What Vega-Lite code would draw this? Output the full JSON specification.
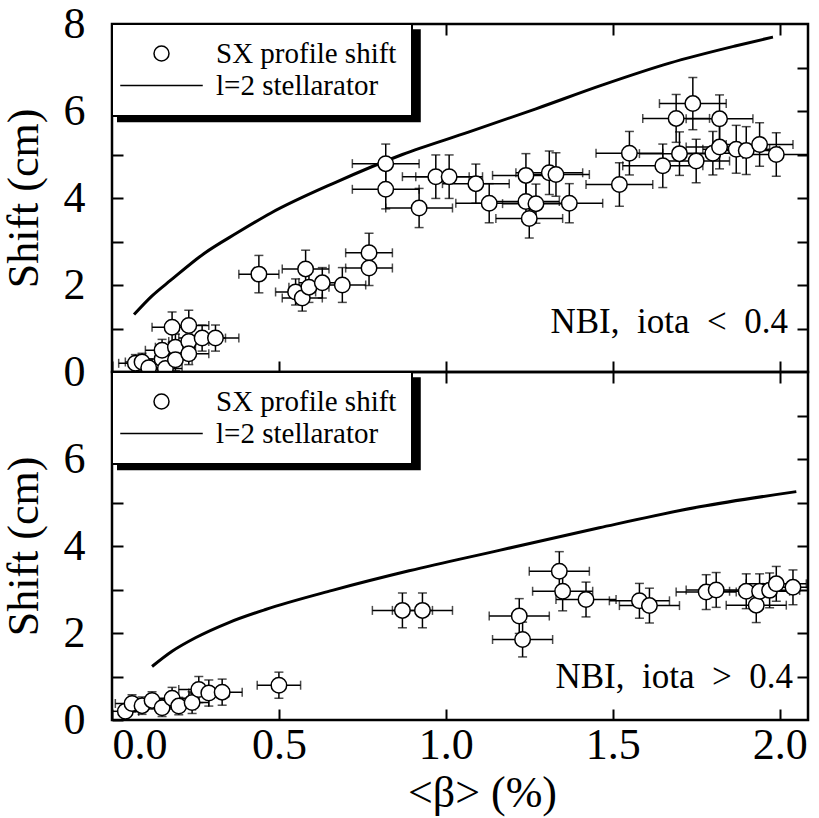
{
  "$schema": "https://vega.github.io/schema/vega-lite/v6.json",
  "autosize": {"type": "pad"},
  "padding": {"left": 0, "top": 0, "right": 5, "bottom": 0},
  "background": "white",
  "bounds": "flush",
  "config": {
    "font": "Liberation Serif",
    "view": {"stroke": "black", "strokeWidth": 2.5},
    "axis": {
      "domain": false, "grid": false, "minExtent": 0, "zindex": 2,
      "tickColor": "black", "tickWidth": 2, "tickSize": -11,
      "labelFont": "Liberation Serif", "labelFontSize": 44, "labelColor": "black",
      "titleFont": "Liberation Serif", "titleFontSize": 44, "titleFontWeight": "normal", "titleColor": "black"
    },
    "legend": {
      "orient": "top-left", "offset": 0, "padding": 15,
      "fillColor": "white", "strokeColor": "black", "strokeWidth": 2,
      "labelFont": "Liberation Serif", "labelFontSize": 29, "labelColor": "black", "labelLimit": 400,
      "rowPadding": 2
    }
  },
  "datasets": {
    "top": [
      {"b":0.07,"s":0.20,"db":0.05,"ds":0.2},
      {"b":0.09,"s":0.23,"db":0.05,"ds":0.2},
      {"b":0.11,"s":0.10,"db":0.05,"ds":0.2},
      {"b":0.15,"s":0.30,"db":0.05,"ds":0.25},
      {"b":0.15,"s":0.50,"db":0.05,"ds":0.25},
      {"b":0.16,"s":0.08,"db":0.05,"ds":0.2},
      {"b":0.18,"s":1.03,"db":0.06,"ds":0.35},
      {"b":0.19,"s":0.57,"db":0.06,"ds":0.3},
      {"b":0.19,"s":0.28,"db":0.05,"ds":0.25},
      {"b":0.23,"s":1.07,"db":0.06,"ds":0.35},
      {"b":0.23,"s":0.70,"db":0.06,"ds":0.3},
      {"b":0.23,"s":0.42,"db":0.06,"ds":0.25},
      {"b":0.27,"s":0.78,"db":0.07,"ds":0.3},
      {"b":0.31,"s":0.78,"db":0.07,"ds":0.3},
      {"b":0.44,"s":2.25,"db":0.06,"ds":0.43},
      {"b":0.58,"s":2.37,"db":0.07,"ds":0.43},
      {"b":0.55,"s":1.84,"db":0.06,"ds":0.3},
      {"b":0.57,"s":1.70,"db":0.06,"ds":0.3},
      {"b":0.59,"s":1.95,"db":0.06,"ds":0.35},
      {"b":0.63,"s":2.05,"db":0.07,"ds":0.35},
      {"b":0.69,"s":2.00,"db":0.07,"ds":0.4},
      {"b":0.77,"s":2.74,"db":0.07,"ds":0.45},
      {"b":0.77,"s":2.39,"db":0.07,"ds":0.4},
      {"b":0.82,"s":4.79,"db":0.1,"ds":0.45},
      {"b":0.82,"s":4.20,"db":0.1,"ds":0.45},
      {"b":0.92,"s":3.77,"db":0.1,"ds":0.45},
      {"b":0.97,"s":4.49,"db":0.1,"ds":0.5},
      {"b":1.01,"s":4.49,"db":0.1,"ds":0.5},
      {"b":1.09,"s":4.33,"db":0.1,"ds":0.45},
      {"b":1.13,"s":3.88,"db":0.1,"ds":0.45},
      {"b":1.24,"s":4.52,"db":0.1,"ds":0.5},
      {"b":1.31,"s":4.58,"db":0.1,"ds":0.5},
      {"b":1.33,"s":4.54,"db":0.1,"ds":0.5},
      {"b":1.24,"s":3.92,"db":0.1,"ds":0.45},
      {"b":1.27,"s":3.87,"db":0.1,"ds":0.45},
      {"b":1.25,"s":3.53,"db":0.1,"ds":0.45},
      {"b":1.37,"s":3.88,"db":0.1,"ds":0.45},
      {"b":1.52,"s":4.31,"db":0.1,"ds":0.5},
      {"b":1.55,"s":5.03,"db":0.1,"ds":0.5},
      {"b":1.65,"s":4.74,"db":0.12,"ds":0.5},
      {"b":1.69,"s":5.83,"db":0.1,"ds":0.55},
      {"b":1.70,"s":5.02,"db":0.12,"ds":0.5},
      {"b":1.74,"s":6.17,"db":0.1,"ds":0.6},
      {"b":1.75,"s":4.85,"db":0.1,"ds":0.5},
      {"b":1.80,"s":5.03,"db":0.1,"ds":0.5},
      {"b":1.82,"s":5.82,"db":0.1,"ds":0.55},
      {"b":1.82,"s":5.17,"db":0.1,"ds":0.5},
      {"b":1.87,"s":5.12,"db":0.1,"ds":0.55},
      {"b":1.90,"s":5.09,"db":0.1,"ds":0.55},
      {"b":1.94,"s":5.23,"db":0.1,"ds":0.5},
      {"b":1.99,"s":5.00,"db":0.1,"ds":0.5}
    ],
    "topModel": [
      {"b":0.066,"s":1.32},
      {"b":0.12,"s":1.75},
      {"b":0.176,"s":2.11},
      {"b":0.275,"s":2.72},
      {"b":0.375,"s":3.2},
      {"b":0.475,"s":3.65},
      {"b":0.67,"s":4.36},
      {"b":0.87,"s":5.0},
      {"b":1.07,"s":5.52},
      {"b":1.27,"s":6.05},
      {"b":1.47,"s":6.6},
      {"b":1.67,"s":7.1},
      {"b":1.87,"s":7.5},
      {"b":1.98,"s":7.7}
    ],
    "bottom": [
      {"b":0.04,"s":0.20,"db":0.04,"ds":0.15},
      {"b":0.06,"s":0.38,"db":0.05,"ds":0.2},
      {"b":0.09,"s":0.33,"db":0.05,"ds":0.2},
      {"b":0.12,"s":0.45,"db":0.05,"ds":0.2},
      {"b":0.15,"s":0.28,"db":0.05,"ds":0.2},
      {"b":0.18,"s":0.50,"db":0.05,"ds":0.25},
      {"b":0.20,"s":0.32,"db":0.05,"ds":0.2},
      {"b":0.24,"s":0.40,"db":0.05,"ds":0.25},
      {"b":0.26,"s":0.70,"db":0.06,"ds":0.3},
      {"b":0.29,"s":0.62,"db":0.06,"ds":0.3},
      {"b":0.33,"s":0.64,"db":0.06,"ds":0.3},
      {"b":0.50,"s":0.80,"db":0.065,"ds":0.3},
      {"b":0.87,"s":2.52,"db":0.09,"ds":0.4},
      {"b":0.93,"s":2.52,"db":0.09,"ds":0.4},
      {"b":1.22,"s":2.39,"db":0.09,"ds":0.4},
      {"b":1.23,"s":1.85,"db":0.09,"ds":0.4},
      {"b":1.34,"s":3.42,"db":0.09,"ds":0.45},
      {"b":1.35,"s":2.96,"db":0.09,"ds":0.45},
      {"b":1.42,"s":2.77,"db":0.09,"ds":0.4},
      {"b":1.58,"s":2.74,"db":0.09,"ds":0.4},
      {"b":1.61,"s":2.63,"db":0.09,"ds":0.4},
      {"b":1.78,"s":2.94,"db":0.09,"ds":0.4},
      {"b":1.81,"s":2.99,"db":0.09,"ds":0.4},
      {"b":1.90,"s":2.96,"db":0.09,"ds":0.4},
      {"b":1.93,"s":2.64,"db":0.09,"ds":0.4},
      {"b":1.94,"s":2.96,"db":0.09,"ds":0.4},
      {"b":1.97,"s":2.98,"db":0.09,"ds":0.4},
      {"b":1.99,"s":3.13,"db":0.09,"ds":0.4},
      {"b":2.04,"s":3.05,"db":0.09,"ds":0.4}
    ],
    "bottomModel": [
      {"b":0.12,"s":1.23},
      {"b":0.18,"s":1.58},
      {"b":0.25,"s":1.89},
      {"b":0.35,"s":2.24},
      {"b":0.46,"s":2.54},
      {"b":0.66,"s":2.98},
      {"b":0.89,"s":3.43},
      {"b":1.16,"s":3.9},
      {"b":1.46,"s":4.42},
      {"b":1.76,"s":4.9},
      {"b":2.05,"s":5.25}
    ]
  },
  "spacing": 0,
  "resolve": {
    "scale": {"shape": "independent"},
    "legend": {"shape": "independent"}
  },
  "vconcat": [
    {
      "width": 696, "height": 348,
      "resolve": {"scale": {"x": "independent", "y": "independent"}},
      "layer": [
        {
          "layer": [
            {"data": {"values": [{}]},
             "mark": {"type": "rect", "color": "black"},
             "encoding": {
               "x": {"datum": 0.015, "type": "quantitative", "scale": {"domain": [0, 2.085], "nice": false, "zero": false}},
               "x2": {"datum": 0.925},
               "y": {"datum": 7.88, "type": "quantitative", "scale": {"domain": [0, 8], "nice": false}},
               "y2": {"datum": 5.74}}},
            {
              "encoding": {
                "x": {"field": "b", "type": "quantitative",
                  "scale": {"domain": [0, 2.085], "nice": false, "zero": false},
                  "axis": {"orient": "bottom", "values": [0, 0.5, 1, 1.5, 2], "labels": false, "title": null}},
                "y": {"field": "s", "type": "quantitative",
                  "scale": {"domain": [0, 8], "nice": false},
                  "axis": {"orient": "left", "values": [0, 1, 2, 3, 4, 5, 6, 7, 8], "format": "d",
                    "labelExpr": "datum.value % 2 === 0 ? datum.label : ''",
                    "labelPadding": 38, "title": "Shift (cm)", "titlePadding": 17}}
              },
              "layer": [
                {"data": {"name": "top"},
                 "mark": {"type": "errorbar", "ticks": {"size": 9, "thickness": 1.5}, "color": "black", "thickness": 1.5, "clip": true},
                 "encoding": {"xError": {"field": "db"}}},
                {"data": {"name": "top"},
                 "mark": {"type": "errorbar", "ticks": {"size": 9, "thickness": 1.5}, "color": "black", "thickness": 1.5, "clip": true},
                 "encoding": {"yError": {"field": "ds"}}},
                {"data": {"name": "topModel"},
                 "mark": {"type": "line", "color": "black", "strokeWidth": 3, "interpolate": "monotone"},
                 "encoding": {}},
                {"data": {"name": "top"},
                 "mark": {"type": "point", "shape": "circle", "size": 240, "fill": "white", "stroke": "black", "strokeWidth": 1.5, "opacity": 1, "fillOpacity": 1, "clip": true},
                 "encoding": {
                   "shape": {"datum": "SX profile shift", "type": "nominal",
                     "scale": {"domain": ["SX profile shift", "l=2 stellarator"], "range": ["circle", "M-5.5,0H5.5"]},
                     "legend": {"title": null, "symbolSize": 225, "symbolOffset": 20, "labelOffset": 40,
                       "encode": {"symbols": {"update": {"stroke": {"value": "black"}, "fill": {"value": "white"}, "strokeWidth": {"value": 2}, "opacity": {"value": 1}}}}}}
                 }}
              ]
            },
            {"data": {"values": [{}]},
             "mark": {"type": "text", "text": "NBI,\u00a0 iota\u00a0 <\u00a0 0.4", "font": "Liberation Serif", "fontSize": 35, "align": "right", "baseline": "middle", "color": "black"},
             "encoding": {"x": {"datum": 2.025, "type": "quantitative"}, "y": {"datum": 1.15, "type": "quantitative"}}}
          ]
        },
        {
          "data": {"name": "top"},
          "mark": {"type": "point", "opacity": 0},
          "encoding": {
            "x": {"field": "b", "type": "quantitative",
              "scale": {"domain": [0, 2.085], "nice": false, "zero": false},
              "axis": {"orient": "top", "values": [0.5, 1, 1.5, 2], "labels": false, "title": null}},
            "y": {"field": "s", "type": "quantitative",
              "scale": {"domain": [0, 8], "nice": false},
              "axis": {"orient": "right", "values": [1, 2, 3, 4, 5, 6, 7], "labels": false, "title": null}}
          }
        }
      ]
    },
    {
      "width": 696, "height": 348,
      "resolve": {"scale": {"x": "independent", "y": "independent"}},
      "layer": [
        {
          "layer": [
            {"data": {"values": [{}]},
             "mark": {"type": "rect", "color": "black"},
             "encoding": {
               "x": {"datum": 0.015, "type": "quantitative", "scale": {"domain": [0, 2.085], "nice": false, "zero": false}},
               "x2": {"datum": 0.925},
               "y": {"datum": 7.88, "type": "quantitative", "scale": {"domain": [0, 8], "nice": false}},
               "y2": {"datum": 5.74}}},
            {
              "encoding": {
                "x": {"field": "b", "type": "quantitative",
                  "scale": {"domain": [0, 2.085], "nice": false, "zero": false},
                  "axis": {"orient": "bottom", "values": [0, 0.5, 1, 1.5, 2], "format": ".1f",
                    "labelPadding": 14, "title": "<β> (%)", "titlePadding": 4, "titleX": 370}},
                "y": {"field": "s", "type": "quantitative",
                  "scale": {"domain": [0, 8], "nice": false},
                  "axis": {"orient": "left", "values": [0, 1, 2, 3, 4, 5, 6, 7, 8], "format": "d",
                    "labelExpr": "datum.value % 2 === 0 && datum.value < 8 ? datum.label : ''",
                    "labelPadding": 38, "title": "Shift (cm)", "titlePadding": 17}}
              },
              "layer": [
                {"data": {"name": "bottom"},
                 "mark": {"type": "errorbar", "ticks": {"size": 9, "thickness": 1.5}, "color": "black", "thickness": 1.5, "clip": true},
                 "encoding": {"xError": {"field": "db"}}},
                {"data": {"name": "bottom"},
                 "mark": {"type": "errorbar", "ticks": {"size": 9, "thickness": 1.5}, "color": "black", "thickness": 1.5, "clip": true},
                 "encoding": {"yError": {"field": "ds"}}},
                {"data": {"name": "bottomModel"},
                 "mark": {"type": "line", "color": "black", "strokeWidth": 3, "interpolate": "monotone"},
                 "encoding": {}},
                {"data": {"name": "bottom"},
                 "mark": {"type": "point", "shape": "circle", "size": 240, "fill": "white", "stroke": "black", "strokeWidth": 1.5, "opacity": 1, "fillOpacity": 1, "clip": true},
                 "encoding": {
                   "shape": {"datum": "SX profile shift", "type": "nominal",
                     "scale": {"domain": ["SX profile shift", "l=2 stellarator"], "range": ["circle", "M-5.5,0H5.5"]},
                     "legend": {"title": null, "symbolSize": 225, "symbolOffset": 20, "labelOffset": 40,
                       "encode": {"symbols": {"update": {"stroke": {"value": "black"}, "fill": {"value": "white"}, "strokeWidth": {"value": 2}, "opacity": {"value": 1}}}}}}
                 }}
              ]
            },
            {"data": {"values": [{}]},
             "mark": {"type": "text", "text": "NBI,\u00a0 iota\u00a0 >\u00a0 0.4", "font": "Liberation Serif", "fontSize": 35, "align": "right", "baseline": "middle", "color": "black"},
             "encoding": {"x": {"datum": 2.04, "type": "quantitative"}, "y": {"datum": 1.0, "type": "quantitative"}}}
          ]
        },
        {
          "data": {"name": "bottom"},
          "mark": {"type": "point", "opacity": 0},
          "encoding": {
            "x": {"field": "b", "type": "quantitative",
              "scale": {"domain": [0, 2.085], "nice": false, "zero": false},
              "axis": {"orient": "top", "values": [0.5, 1, 1.5, 2], "labels": false, "title": null}},
            "y": {"field": "s", "type": "quantitative",
              "scale": {"domain": [0, 8], "nice": false},
              "axis": {"orient": "right", "values": [1, 2, 3, 4, 5, 6, 7], "labels": false, "title": null}}
          }
        }
      ]
    }
  ]
}
